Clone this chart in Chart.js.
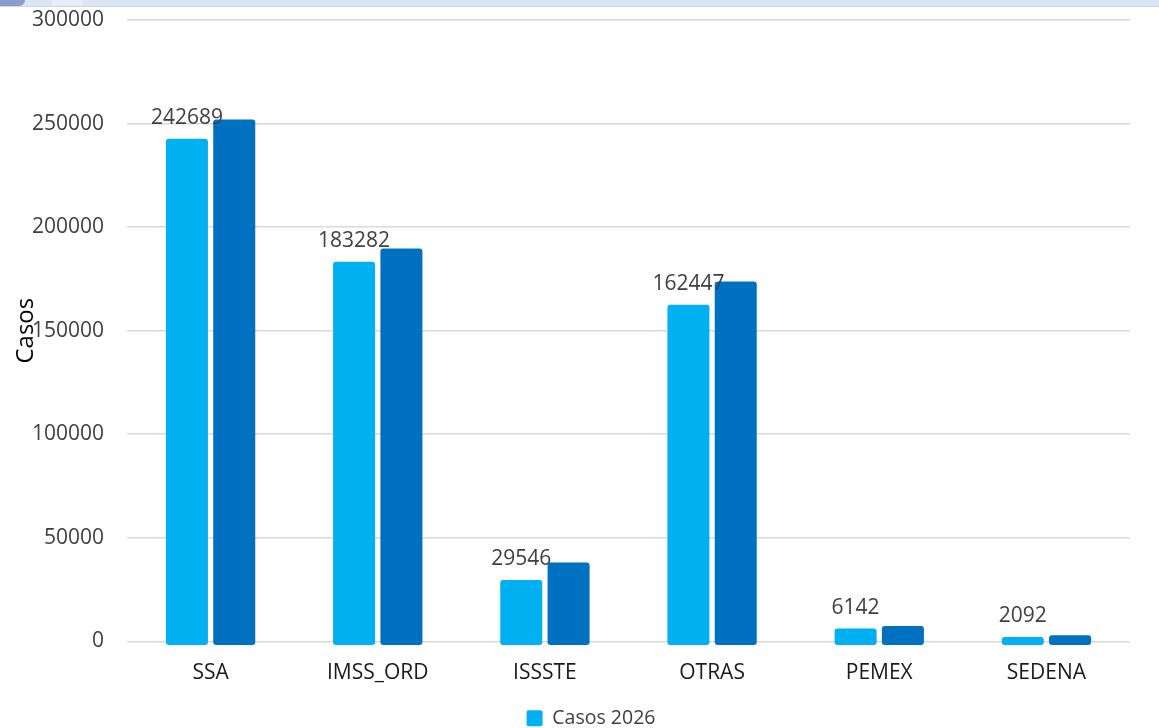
<!DOCTYPE html>
<html>
<head>
<meta charset="utf-8">
<script src="https://cdn.jsdelivr.net/npm/chart.js@4/dist/chart.umd.min.js"></script>
<style>
  html, body { margin: 0; padding: 0; background: #fff; overflow: hidden; }
  #wrap { position: relative; width: 1159px; height: 728px; }
  #strip { position: absolute; left: 0; top: 0; width: 1159px; height: 6px; background: #dae5f5; border-bottom: 1px solid #d2d6dc; }
  #strip .a { position: absolute; left: 0; top: 0; width: 25px; height: 6px; background: #8b9dcc; border-bottom-right-radius: 6px; }
  #strip .b { position: absolute; left: 52px; top: 0; width: 30px; height: 6px; background: #e8eef9; }
  canvas { position: absolute; left: 0; top: 0; }
</style>
</head>
<body>
<div id="wrap">
  <canvas id="c" width="1159" height="728"></canvas>
  <div id="strip"><div class="a"></div><div class="b"></div></div>
</div>
<script>
const categories = ['SSA', 'IMSS_ORD', 'ISSSTE', 'OTRAS', 'PEMEX', 'SEDENA'];
const casos2026 = [242689, 183282, 29546, 162447, 6142, 2092];
const casosPrevios = [251900, 189700, 38000, 173700, 7400, 2900];
const yTicks = [0, 50000, 100000, 150000, 200000, 250000, 300000];
const seriesNames = ['Casos 2026', 'Casos anteriores'];

const FONT = "'Open Sans', 'Noto Sans', sans-serif";

const valueLabels = {
  id: 'valueLabels',
  afterDatasetsDraw(chart) {
    const ctx = chart.ctx;
    const meta = chart.getDatasetMeta(0);
    ctx.save();
    ctx.font = "21px " + FONT;
    ctx.fillStyle = '#404040';
    ctx.textAlign = 'center';
    ctx.textBaseline = 'alphabetic';
    meta.data.forEach((bar, i) => {
      ctx.fillText(String(casos2026[i]), bar.x, bar.y - 15);
    });
    ctx.restore();
  }
};

new Chart(document.getElementById('c'), {
  type: 'bar',
  data: {
    labels: categories,
    datasets: [
      {
        label: seriesNames[0],
        data: casos2026,
        backgroundColor: '#00b0f0',
        borderRadius: 3,
        borderSkipped: false,
        base: -1800,
        clip: false,
        categoryPercentage: 0.566,
        barPercentage: 0.888
      },
      {
        label: seriesNames[1],
        data: casosPrevios,
        backgroundColor: '#0070c0',
        borderRadius: 3,
        borderSkipped: false,
        base: -1800,
        clip: false,
        categoryPercentage: 0.566,
        barPercentage: 0.888
      }
    ]
  },
  options: {
    responsive: false,
    animation: false,
    layout: { padding: { top: 20, right: 0, bottom: -10, left: 23 } },
    plugins: {
      tooltip: { enabled: false },
      legend: {
        position: 'bottom',
        labels: {
          filter: (item) => item.datasetIndex === 0,
          boxWidth: 16,
          boxHeight: 16,
          useBorderRadius: true,
          borderRadius: 2,
          color: '#404040',
          font: { family: FONT, size: 19.5 },
          padding: 4
        }
      }
    },
    scales: {
      x: {
        grid: { display: false, drawTicks: false },
        border: { display: false },
        ticks: { color: '#1a1a1a', font: { family: FONT, size: 21 }, padding: 19 }
      },
      y: {
        min: 0,
        max: 300000,
        afterBuildTicks: (scale) => { scale.ticks = yTicks.map(v => ({ value: v })); },
        afterFit: (scale) => { scale.width = 104; scale.paddingTop = 0; scale.paddingBottom = 0; },
        grid: { color: '#d9d9d9', lineWidth: 1.5, drawTicks: false },
        border: { display: false },
        ticks: {
          color: '#404040',
          font: { family: FONT, size: 21 },
          padding: 23,
          callback: (v) => String(v)
        },
        title: {
          display: true,
          text: 'Casos',
          color: '#000',
          font: { family: FONT, size: 24 },
          padding: { top: -11, bottom: 0 }
        }
      },
      yRight: {
        position: 'right',
        min: 0,
        max: 300000,
        grid: { display: false, drawTicks: false },
        border: { display: false },
        ticks: { display: false },
        afterFit: (scale) => { scale.width = 29; scale.paddingTop = 0; scale.paddingBottom = 0; }
      }
    }
  },
  plugins: [valueLabels]
});
</script>
</body>
</html>
